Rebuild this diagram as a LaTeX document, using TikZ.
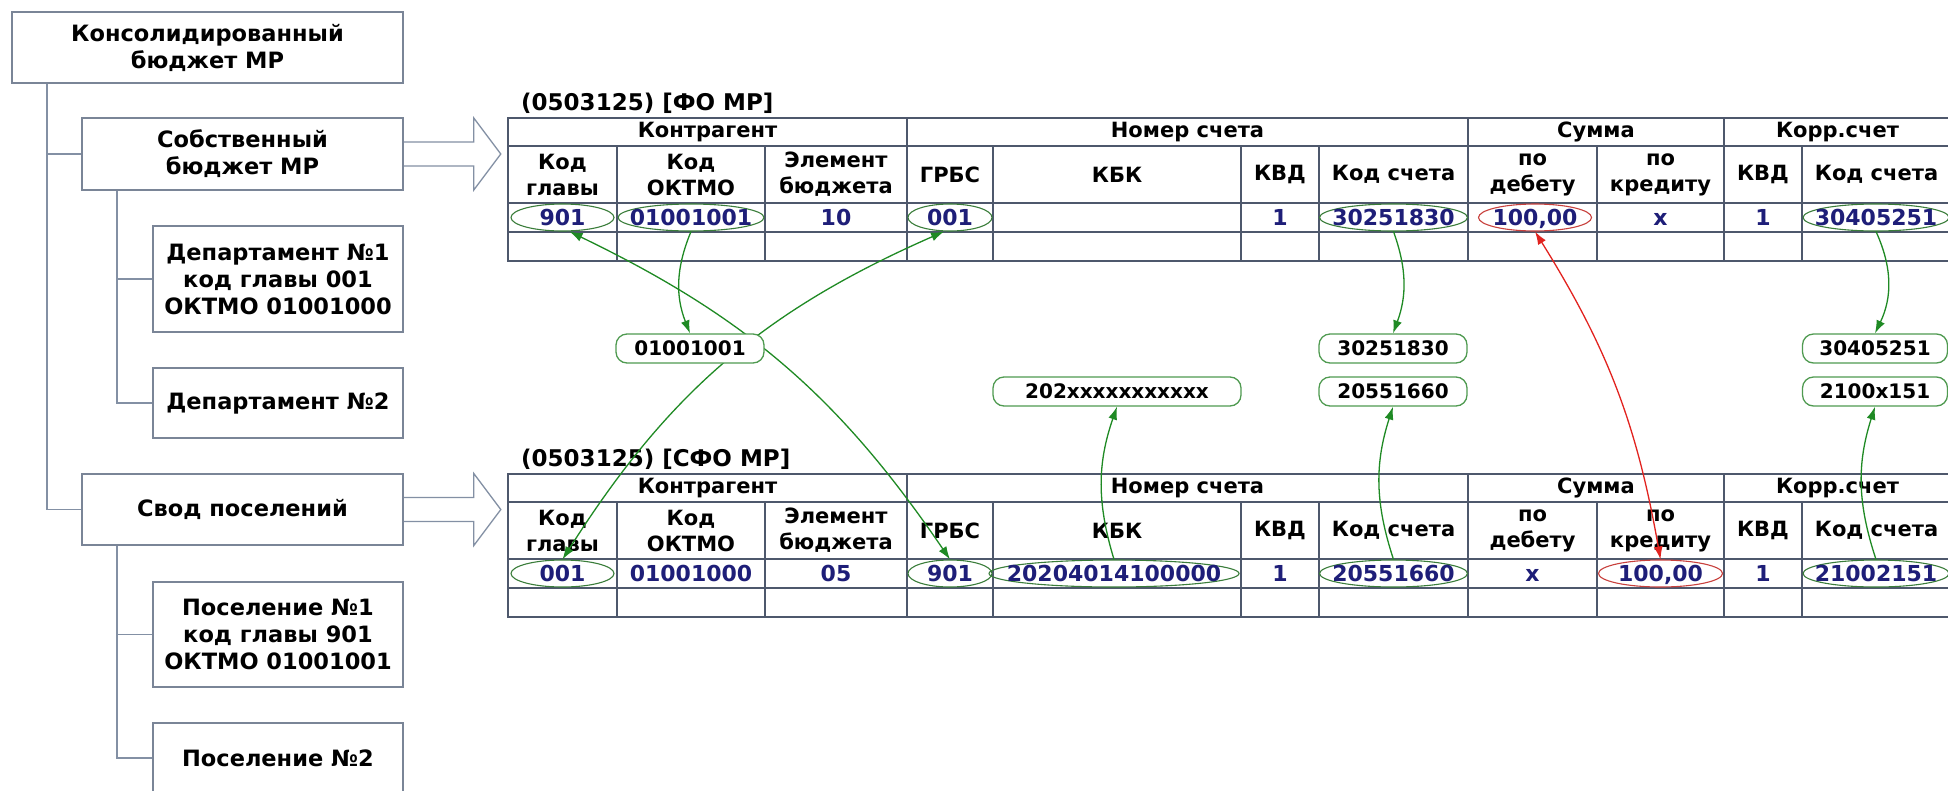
\documentclass[tikz,border=0pt]{standalone}
\usepackage{fontspec}
\setmainfont{DejaVu Sans}
\usetikzlibrary{arrows.meta,shapes.geometric}
\definecolor{BudLine}{HTML}{8390A4}
\definecolor{BudBox}{HTML}{7A8597}
\definecolor{BudGrid}{HTML}{4E586C}
\definecolor{BudNavy}{HTML}{1E1E78}
\definecolor{BudGreen}{HTML}{1F8A24}
\definecolor{BudRing}{HTML}{3A7D3A}
\definecolor{BudPill}{HTML}{4F9A50}
\definecolor{BudRed}{HTML}{E2231F}
\definecolor{BudRedRing}{HTML}{C8403C}
\newcommand{\zw}[1]{\makebox[0pt]{#1}}

\begin{document}
\begin{tikzpicture}[x=1pt,y=-1pt,
    >={Latex[length=13pt,width=9pt]},
    unit/.style={draw=BudBox,line width=1.6pt,fill=white,align=center,
      font=\fontsize{22.5}{27}\selectfont\bfseries,inner sep=0pt},
    tree/.style={draw=BudLine,line width=1.6pt},
    hollow/.style={draw=BudLine,line width=1.3pt},
    grid/.style={draw=BudGrid,line width=1.8pt,line cap=rect},
    head/.style={align=center,font=\fontsize{21}{26}\selectfont\bfseries,inner sep=0pt},
    title/.style={anchor=west,font=\fontsize{23}{27}\selectfont\bfseries,inner sep=0pt},
    val/.style={font=\fontsize{22}{26}\selectfont\bfseries,text=BudNavy,inner sep=0pt,
      text height=15.8pt,text depth=0pt},
    ring/.style={val,ellipse,draw=BudRing,line width=1.1pt,minimum height=27pt},
    redring/.style={ring,draw=BudRedRing},
    pill/.style={draw=BudPill,line width=1.3pt,fill=white,rounded corners=11pt,
      minimum height=29pt,inner sep=0pt,font=\fontsize{20}{24}\selectfont\bfseries},
    link/.style={->,draw=BudGreen,line width=1.3pt},
    redlink/.style={<->,draw=BudRed,line width=1.3pt}
  ]
  \path[use as bounding box,fill=white] (0,0) rectangle (1948,790);

  % budget tree
  \node[unit,minimum width=391pt,minimum height=71pt] (cons) at (207.5,47.5) {Консолидированный\\бюджет МР};
  \node[unit,minimum width=321pt,minimum height=72pt] (own) at (242.5,154) {Собственный\\бюджет МР};
  \node[unit,minimum width=250pt,minimum height=106pt] (dep1) at (278,279) {Департамент №1\\код главы 001\\ОКТМО 01001000};
  \node[unit,minimum width=250pt,minimum height=70pt] (dep2) at (278,403) {Департамент №2};
  \node[unit,minimum width=321pt,minimum height=71pt] (svod) at (242.5,509.5) {Свод поселений};
  \node[unit,minimum width=250pt,minimum height=105pt] (pos1) at (278,634.5) {Поселение №1\\код главы 901\\ОКТМО 01001001};
  \node[unit,minimum width=250pt,minimum height=70pt] (pos2) at (278,758) {Поселение №2};

  \draw[tree] ([xshift=36pt]cons.south west) |- (own.west);
  \draw[tree] ([xshift=36pt]cons.south west) |- (svod.west);
  \draw[tree] ([xshift=36pt]own.south west) |- (dep1.west);
  \draw[tree] ([xshift=36pt]own.south west) |- (dep2.west);
  \draw[tree] ([xshift=36pt]svod.south west) |- (pos1.west);
  \draw[tree] ([xshift=36pt]svod.south west) |- (pos2.west);

  % hollow arrows into the reports
  \draw[hollow] ([yshift=12pt]own.east) -- ++(70,0) -- ++(0,-24) -- ++(27,36)
    -- ++(-27,36) -- ++(0,-24) -- ([yshift=-12pt]own.east);
  \draw[hollow] ([yshift=12pt]svod.east) -- ++(70,0) -- ++(0,-24) -- ++(27,36)
    -- ++(-27,36) -- ++(0,-24) -- ([yshift=-12pt]svod.east);

  % two report tables
  \foreach \ty/\tn/\tname in {118/t/{(0503125) [ФО МР]},474/b/{(0503125) [СФО МР]}} {
    \node[title] (\tn-title) at (521,\ty-15) {\tname};
    \foreach \ry in {0,28,85,114,143}
      \draw[grid] (508,\ty+\ry) -- (1951,\ty+\ry);
    \foreach \cx in {508,907,1468,1724}
      \draw[grid] (\cx,\ty) -- (\cx,\ty+143);
    \foreach \cx in {617,765,993,1241,1319,1597,1802}
      \draw[grid] (\cx,\ty+28) -- (\cx,\ty+143);
    \node[head] (\tn-kontr) at (707.5,\ty+14) {Контрагент};
    \node[head] (\tn-nomer) at (1187.5,\ty+14) {Номер счета};
    \node[head] (\tn-summa) at (1596,\ty+14) {Сумма};
    \node[head] (\tn-korr) at (1837.5,\ty+14) {Корр.счет};
    \foreach \cx/\cn/\ct in {562.5/kg/{Код\\главы},691/ok/{Код\\ОКТМО},
        836/el/{Элемент\\бюджета},950/gr/{ГРБС},1117/kb/{КБК},1280/kv/{КВД},
        1393.5/ks/{Код счета},1532.5/db/{по\\дебету},1660.5/cr/{по\\кредиту},
        1763/kv2/{КВД},1876.5/ks2/{Код счета}}
      \node[head] (\tn-h-\cn) at (\cx,\ty+56.5) {\ct};
  }

  % values, ФО МР
  \node[ring,minimum width=103pt] (t901) at (562.5,217.5) {\zw{901}};
  \node[ring,minimum width=146pt] (tOKTMO) at (691,217.5) {\zw{01001001}};
  \node[val] (tElem) at (836,217.5) {10};
  \node[ring,minimum width=84pt] (t001) at (950,217.5) {\zw{001}};
  \node[val] (tKVD) at (1280,217.5) {1};
  \node[ring,minimum width=148pt] (tAcc) at (1393.5,217.5) {\zw{30251830}};
  \node[redring,minimum width=113pt] (tDeb) at (1535,217.5) {\zw{100,00}};
  \node[val] (tCred) at (1660.5,217.5) {x};
  \node[val] (tKVD2) at (1763,217.5) {1};
  \node[ring,minimum width=146pt] (tCorr) at (1876,217.5) {\zw{30405251}};

  % values, СФО МР
  \node[ring,minimum width=103pt] (b001) at (562.5,573.5) {\zw{001}};
  \node[val] (bOKTMO) at (691,573.5) {01001000};
  \node[val] (bElem) at (836,573.5) {05};
  \node[ring,minimum width=84pt] (b901) at (950,573.5) {\zw{901}};
  \node[ring,minimum width=250pt] (bKBK) at (1114,573.5) {\zw{20204014100000}};
  \node[val] (bKVD) at (1280,573.5) {1};
  \node[ring,minimum width=148pt] (bAcc) at (1393.5,573.5) {\zw{20551660}};
  \node[val] (bDeb) at (1532.5,573.5) {x};
  \node[redring,minimum width=124pt] (bCred) at (1660.5,573.5) {\zw{100,00}};
  \node[val] (bKVD2) at (1763,573.5) {1};
  \node[ring,minimum width=146pt] (bCorr) at (1876,573.5) {\zw{21002151}};

  % crossing codes run behind the pill
  \draw[link,<->] ([xshift=7pt]t901.south) to[bend left=15] (b901.north);
  \draw[link,<->] ([xshift=-6pt]t001.south) to[bend right=17] (b001.north);

  \node[pill,minimum width=148pt] (pOKTMO) at (690,348.5) {01001001};
  \node[pill,minimum width=248pt] (pKBK) at (1117,391.5) {202xxxxxxxxxxx};
  \node[pill,minimum width=148pt] (pAccT) at (1393,348.5) {30251830};
  \node[pill,minimum width=148pt] (pAccB) at (1393,391.5) {20551660};
  \node[pill,minimum width=145pt] (pCorrT) at (1875,348.5) {30405251};
  \node[pill,minimum width=145pt] (pCorrB) at (1875,391.5) {2100x151};

  \draw[link] (tOKTMO.south) to[bend right=22] (pOKTMO.north);
  \draw[link] (tAcc.south) to[bend left=20] (pAccT.north);
  \draw[link] (tCorr.south) to[bend left=25] (pCorrT.north);
  \draw[link] (bKBK.north) to[bend left=18] (pKBK.south);
  \draw[link] (bAcc.north) to[bend left=18] (pAccB.south);
  \draw[link] (bCorr.north) to[bend left=18] (pCorrB.south);
  \draw[redlink] (tDeb.south) to[bend left=11] (bCred.north);
\end{tikzpicture}
\end{document}
